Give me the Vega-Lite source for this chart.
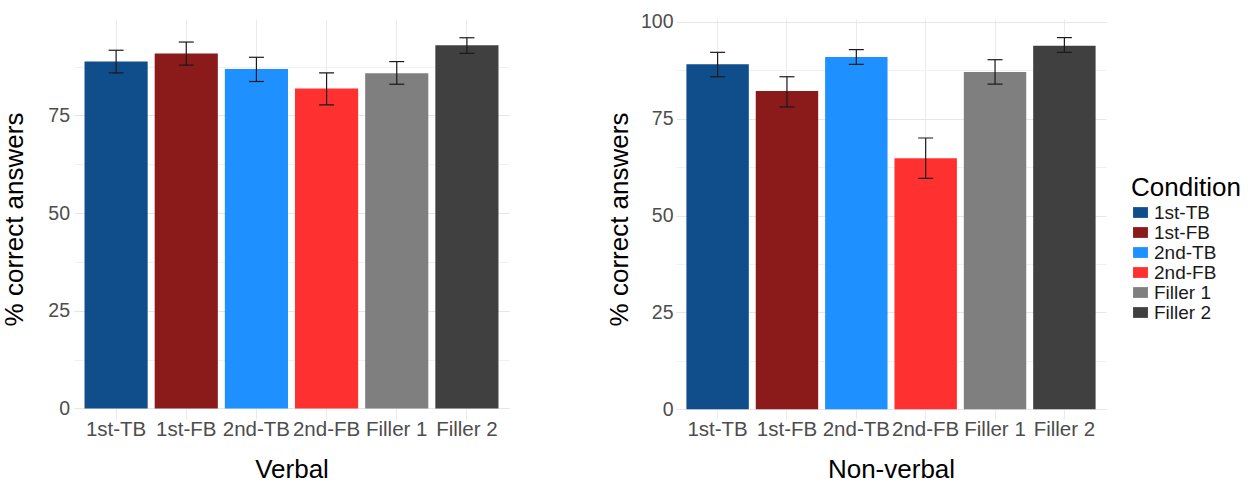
{
  "$schema": "https://vega.github.io/schema/vega-lite/v6.json",
  "background": "white",
  "padding": {"left": 1, "top": 11, "right": 0, "bottom": 0},
  "config": {
    "view": {"stroke": null},
    "font": "Liberation Sans",
    "axis": {
      "domain": false,
      "ticks": false,
      "tickSize": 0,
      "labelFontSize": 19.5,
      "labelColor": "#4d4d4d",
      "titleFontSize": 26,
      "titleFontWeight": "normal",
      "titleColor": "#000000",
      "gridColor": "#ebebeb",
      "gridWidth": 1
    }
  },
  "datasets": {
    "verbal": [
      {"Condition": "1st-TB", "mean": 88.8, "lo": 85.9, "hi": 91.7},
      {"Condition": "1st-FB", "mean": 90.9, "lo": 87.9, "hi": 93.8},
      {"Condition": "2nd-TB", "mean": 86.9, "lo": 83.7, "hi": 89.9},
      {"Condition": "2nd-FB", "mean": 81.9, "lo": 77.7, "hi": 85.9},
      {"Condition": "Filler 1", "mean": 85.8, "lo": 83.0, "hi": 88.8},
      {"Condition": "Filler 2", "mean": 93.0, "lo": 90.9, "hi": 94.9}
    ],
    "nonverbal": [
      {"Condition": "1st-TB", "mean": 89.0, "lo": 85.8, "hi": 92.1},
      {"Condition": "1st-FB", "mean": 82.1, "lo": 78.0, "hi": 85.8},
      {"Condition": "2nd-TB", "mean": 90.9, "lo": 89.0, "hi": 92.8},
      {"Condition": "2nd-FB", "mean": 64.8, "lo": 59.6, "hi": 70.0},
      {"Condition": "Filler 1", "mean": 87.0, "lo": 83.9, "hi": 90.2},
      {"Condition": "Filler 2", "mean": 93.8, "lo": 92.1, "hi": 95.9}
    ]
  },
  "spacing": 97,
  "resolve": {
    "scale": {"color": "independent", "x": "independent", "y": "independent"},
    "legend": {"color": "independent"}
  },
  "hconcat": [
    {
      "width": 435,
      "height": 400,
      "data": {"name": "verbal"},
      "encoding": {
        "x": {
          "field": "Condition",
          "type": "nominal",
          "sort": ["1st-TB", "1st-FB", "2nd-TB", "2nd-FB", "Filler 1", "Filler 2"],
          "scale": {"paddingInner": 0.1, "paddingOuter": 0.15},
          "axis": {"title": "Verbal", "labelAngle": 0, "labelFontSize": 20.5, "labelPadding": 0, "titlePadding": 17, "grid": true}
        }
      },
      "layer": [
        {
          "mark": {"type": "bar"},
          "encoding": {
            "y": {
              "field": "mean",
              "type": "quantitative",
              "scale": {"domain": [-2.7, 99.7], "nice": false, "zero": false},
              "axis": {
                "title": "% correct answers",
                "values": [0, 12.5, 25, 37.5, 50, 62.5, 75, 87.5],
                "labelExpr": "datum.value % 25 === 0 ? datum.label : ''",
                "labelPadding": 4.5,
                "titlePadding": 20,
                "grid": true,
                "gridColor": {"condition": {"test": "datum.value % 25 === 0", "value": "#e6e6e6"}, "value": "#f1f1f1"}
              }
            },
            "color": {
              "field": "Condition",
              "type": "nominal",
              "scale": {
                "domain": ["1st-TB", "1st-FB", "2nd-TB", "2nd-FB", "Filler 1", "Filler 2"],
                "range": ["#104E8B", "#8B1A1A", "#1E90FF", "#FF3030", "#7F7F7F", "#404040"]
              },
              "legend": null
            }
          }
        },
        {
          "mark": {"type": "rule", "color": "#1a1a1a", "strokeWidth": 1.2},
          "encoding": {"y": {"field": "lo", "type": "quantitative"}, "y2": {"field": "hi"}}
        },
        {
          "mark": {"type": "tick", "orient": "horizontal", "size": 15, "thickness": 1.2, "color": "#1a1a1a", "opacity": 1},
          "encoding": {"y": {"field": "lo", "type": "quantitative"}}
        },
        {
          "mark": {"type": "tick", "orient": "horizontal", "size": 15, "thickness": 1.2, "color": "#1a1a1a", "opacity": 1},
          "encoding": {"y": {"field": "hi", "type": "quantitative"}}
        }
      ]
    },
    {
      "width": 430,
      "height": 400,
      "data": {"name": "nonverbal"},
      "encoding": {
        "x": {
          "field": "Condition",
          "type": "nominal",
          "sort": ["1st-TB", "1st-FB", "2nd-TB", "2nd-FB", "Filler 1", "Filler 2"],
          "scale": {"paddingInner": 0.1, "paddingOuter": 0.15},
          "axis": {"title": "Non-verbal", "labelAngle": 0, "labelFontSize": 20.5, "labelPadding": 0, "titlePadding": 17, "grid": true}
        }
      },
      "layer": [
        {
          "mark": {"type": "bar"},
          "encoding": {
            "y": {
              "field": "mean",
              "type": "quantitative",
              "scale": {"domain": [-2.5, 100.7], "nice": false, "zero": false},
              "axis": {
                "title": "% correct answers",
                "values": [0, 12.5, 25, 37.5, 50, 62.5, 75, 87.5, 100],
                "labelExpr": "datum.value % 25 === 0 ? datum.label : ''",
                "labelPadding": 3,
                "titlePadding": 8,
                "grid": true,
                "gridColor": {"condition": {"test": "datum.value % 25 === 0", "value": "#e6e6e6"}, "value": "#f1f1f1"}
              }
            },
            "color": {
              "field": "Condition",
              "type": "nominal",
              "scale": {
                "domain": ["1st-TB", "1st-FB", "2nd-TB", "2nd-FB", "Filler 1", "Filler 2"],
                "range": ["#104E8B", "#8B1A1A", "#1E90FF", "#FF3030", "#7F7F7F", "#404040"]
              },
              "legend": {
                "title": "Condition",
                "orient": "none",
                "legendX": 455,
                "legendY": 156,
                "titleFontSize": 26,
                "titleFontWeight": "normal",
                "titleColor": "#000000",
                "titlePadding": 2,
                "labelFontSize": 19,
                "labelColor": "#1a1a1a",
                "labelOffset": 4,
                "rowPadding": 0,
                "symbolType": "M-0.8,-0.58H0.8V0.58H-0.8Z",
                "symbolSize": 346,
                "symbolStrokeWidth": 0,
                "symbolOpacity": 1
              }
            }
          }
        },
        {
          "mark": {"type": "rule", "color": "#1a1a1a", "strokeWidth": 1.2},
          "encoding": {"y": {"field": "lo", "type": "quantitative"}, "y2": {"field": "hi"}}
        },
        {
          "mark": {"type": "tick", "orient": "horizontal", "size": 15, "thickness": 1.2, "color": "#1a1a1a", "opacity": 1},
          "encoding": {"y": {"field": "lo", "type": "quantitative"}}
        },
        {
          "mark": {"type": "tick", "orient": "horizontal", "size": 15, "thickness": 1.2, "color": "#1a1a1a", "opacity": 1},
          "encoding": {"y": {"field": "hi", "type": "quantitative"}}
        }
      ]
    }
  ]
}
